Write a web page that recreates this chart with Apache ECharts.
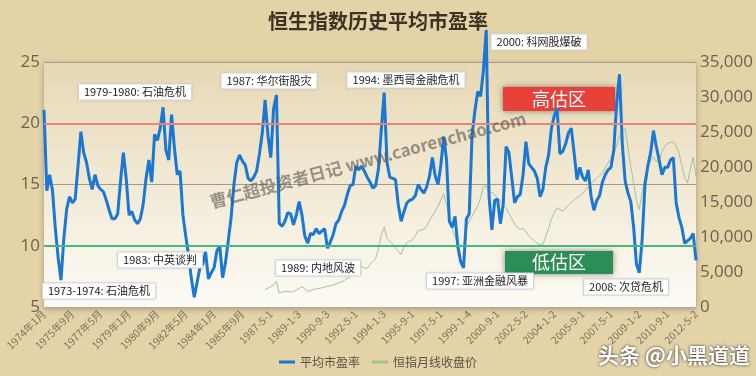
<!DOCTYPE html>
<html>
<head>
<meta charset="utf-8">
<script src="https://cdn.jsdelivr.net/npm/echarts@6/dist/echarts.min.js"></script>
<style>
html,body{margin:0;padding:0;background:#e5d3a8;}
#chart{width:756px;height:376px;}
</style>
</head>
<body>
<div id="chart"></div>
<script>
//横轴刻度文字（每20个月一个）
var tickLabels = ['1974年1月','1975年9月','1977年5月','1979年1月','1980年9月','1982年5月','1984年1月','1985年9月',
	'1987-5-1','1989-1-3','1990-9-3','1992-5-1','1994-1-3','1995-9-1','1997-5-1','1999-1-4',
	'2000-9-1','2002-5-2','2004-1-2','2005-9-1','2007-5-1','2009-1-2','2010-9-1','2012-5-2'];

//平均市盈率（1974年1月起，每两个月一个点）
var peValues = [21.1,14.5,15.8,14.5,11.4,9.0,7.2,10.6,13.0,14.0,
	13.5,13.8,16.5,19.3,17.6,16.8,15.5,14.6,15.8,14.9,
	14.6,14.4,13.7,12.9,12.2,12.2,12.6,15.3,17.6,15.5,
	12.5,12.8,12.1,11.8,12.2,13.4,15.5,17.0,15.2,19.1,
	18.6,19.6,21.3,17.8,17.0,20.7,18.0,15.8,16.1,12.5,
	10.8,9.2,7.3,5.8,7.0,8.2,8.5,9.5,7.3,7.8,
	8.2,9.6,10.0,7.4,8.6,10.4,12.3,15.0,16.8,17.4,
	16.9,16.6,15.5,15.3,15.6,16.1,17.5,19.2,21.9,19.0,
	17.2,21.2,22.3,11.8,11.6,12.0,12.7,12.6,11.7,12.5,
	13.6,12.5,10.8,10.2,11.0,10.9,11.4,11.0,11.2,11.4,
	9.8,10.3,10.9,11.8,12.1,12.8,13.3,14.2,14.9,15.0,
	16.5,16.2,16.5,16.1,15.6,15.2,14.7,14.9,16.3,19.5,
	22.5,16.8,15.6,15.5,15.4,13.3,12.0,12.8,13.5,13.7,
	13.8,14.1,15.0,14.6,14.3,14.8,15.7,17.2,15.7,15.0,
	16.6,18.9,17.0,12.0,11.5,12.4,9.9,8.7,8.2,12.2,
	12.6,19.0,21.0,22.6,22.2,24.3,27.6,14.0,11.3,13.7,
	13.8,11.8,13.4,18.1,17.6,15.6,13.5,14.0,14.2,15.8,
	18.5,16.7,16.4,16.1,15.5,14.0,14.6,16.4,17.4,19.6,
	20.6,21.2,17.5,17.7,18.3,19.2,19.6,17.6,15.4,16.4,
	15.6,15.3,16.2,14.0,12.9,13.7,14.1,15.2,15.8,16.2,
	16.4,17.8,21.6,24.0,18.3,15.3,14.3,13.6,11.5,8.5,
	7.8,10.5,15.0,16.5,17.6,19.4,18.1,17.0,15.8,16.4,
	16.4,17.0,17.2,13.5,12.3,11.5,10.2,10.4,10.6,11.0,
	8.8];

//恒指月线收盘价（1987年1月起，同样每两个月一个点）
var hsiStart = 78;
var hsiValues = [2450,2700,2900,3150,3700,2000,2100,2250,2200,2150,
	2200,2400,2650,2900,2600,2200,2350,2500,2600,2650,
	2750,2850,2950,3050,3150,3300,3450,3600,3800,4100,
	4400,4800,5300,5500,5750,5600,5500,6100,6500,6900,
	8300,10300,11400,9800,9400,9000,8400,8000,7500,8600,
	9200,9400,9600,10200,10900,11000,11100,11600,12400,13000,
	13700,14400,15300,16200,14600,12600,11200,10000,9000,8600,
	8700,11300,12300,13000,13700,14400,15600,17200,17300,16000,
	16400,16000,15600,15100,14600,14200,13400,12600,11900,11300,
	11100,11200,10800,10200,9800,9500,9100,8900,8900,10100,
	11200,12600,13500,14200,13900,13700,14100,14500,14900,15300,
	15600,15900,16200,16700,17200,17600,18000,18400,18800,19100,
	19900,20600,21300,22000,23000,24500,25200,25500,22800,20000,
	17800,15200,13900,16300,18500,20000,21000,21400,20800,20900,
	22200,22900,23400,23500,23600,23000,22000,20200,18500,17700,
	19700,21400,18700];

//事件标注
var notes = [
	{text:'1979-1980: 石油危机', x:135, y:92},
	{text:'1987: 华尔街股灾', x:269, y:81},
	{text:'1994: 墨西哥金融危机', x:406, y:80},
	{text:'2000: 科网股爆破', x:539, y:42},
	{text:'1973-1974: 石油危机', x:99, y:291},
	{text:'1983: 中英谈判', x:160, y:260},
	{text:'1989: 内地风波', x:318, y:268},
	{text:'1997: 亚洲金融风暴', x:480, y:281},
	{text:'2008: 次贷危机', x:626, y:287}
];

//类目：每两个月一个
var categories = [];
for(var i=0;i<peValues.length;i++){
	if(i % 10 == 0){
		categories.push(tickLabels[i/10]);
	}else{
		var m = i*2;
		categories.push((1974 + Math.floor(m/12)) + '-' + (m%12 + 1));
	}
}
var hsiData = [];
for(var i=0;i<peValues.length;i++){
	hsiData.push(i < hsiStart ? null : hsiValues[i - hsiStart]);
}

var cjk = '"Noto Sans CJK SC", sans-serif';
var graphics = [];
for(var i=0;i<notes.length;i++){
	graphics.push({
		type:'text', x:notes[i].x, y:notes[i].y, z:10,
		style:{
			text:notes[i].text, font:'11px ' + cjk, fill:'#222',
			align:'center', verticalAlign:'middle',
			backgroundColor:'#fff', padding:[2,5,2,5],
			borderColor:'#ddd', borderWidth:1,
			shadowBlur:2, shadowColor:'rgba(0,0,0,0.15)'
		}
	});
}
//高估区 / 低估区
graphics.push({
	type:'group', x:503, y:87, z:10,
	children:[
		{type:'rect', shape:{x:0,y:0,width:112,height:24},
			style:{fill:'#e8413a', shadowBlur:6, shadowColor:'rgba(0,0,0,0.45)'}},
		{type:'text', x:56, y:12, style:{text:'高估区', font:'18px ' + cjk, fill:'#fff', align:'center', verticalAlign:'middle'}}
	]
});
graphics.push({
	type:'group', x:505, y:251, z:10,
	children:[
		{type:'rect', shape:{x:0,y:0,width:108,height:23},
			style:{fill:'#2b8e55', shadowBlur:6, shadowColor:'rgba(0,0,0,0.45)'}},
		{type:'text', x:54, y:11.5, style:{text:'低估区', font:'18px ' + cjk, fill:'#fff', align:'center', verticalAlign:'middle'}}
	]
});
//水印
graphics.push({
	type:'text', x:368, y:160, rotation:15*Math.PI/180, z:9,
	style:{text:'曹仁超投资者日记 www.caorenchao.com', font:'bold 17px ' + cjk,
		fill:'rgba(90,85,80,0.6)', align:'center', verticalAlign:'middle'}
});
graphics.push({
	type:'text', x:674, y:355, z:10,
	style:{text:'头条 @小黑道道', font:'bold 21px ' + cjk, fill:'#fff',
		align:'center', verticalAlign:'middle',
		textShadowColor:'rgba(0,0,0,0.85)', textShadowBlur:3}
});

var myChart = echarts.init(document.getElementById('chart'));
var option = {
	backgroundColor:'#e5d3a8',
	animation:false,
	title:{
		text:'恒生指数历史平均市盈率', left:'center', top:6,
		textStyle:{fontFamily:cjk, fontSize:20, fontWeight:'bold', color:'#3d3226'}
	},
	legend:{
		bottom:3, left:'center', itemGap:12, itemWidth:16, itemHeight:3, icon:'rect',
		textStyle:{fontFamily:cjk, fontSize:12, color:'#5a5145'},
		data:['平均市盈率','恒指月线收盘价']
	},
	grid:{
		left:44, right:54, top:62, bottom:69, show:true, borderWidth:0,
		backgroundColor:new echarts.graphic.LinearGradient(0,0,0,1,[
			{offset:0, color:'#e7d8b4'},{offset:1, color:'#fdfbf6'}]),
		shadowBlur:6, shadowColor:'rgba(0,0,0,0.3)', shadowOffsetY:2
	},
	graphic:graphics,
	xAxis:{
		type:'category', data:categories, boundaryGap:false,
		axisLine:{lineStyle:{color:'#b3aa98'}},
		axisTick:{show:false},
		axisLabel:{interval:9, rotate:45, fontSize:10.5, color:'#7d7262', margin:5, fontFamily:cjk}
	},
	yAxis:[
		{
			type:'value', min:5, max:25, interval:5,
			axisLine:{show:false}, axisTick:{show:false},
			axisLabel:{fontSize:17, color:'#6e6150', margin:4, fontFamily:'"Open Sans", sans-serif'},
			splitLine:{lineStyle:{color:'#a39b8a', width:1}}
		},
		{
			type:'value', min:0, max:35000, interval:5000,
			axisLine:{show:false}, axisTick:{show:false},
			axisLabel:{fontSize:17, color:'#6e6150', margin:4, fontFamily:'"Open Sans", sans-serif'},
			splitLine:{show:false}
		}
	],
	series:[
		{
			name:'平均市盈率', type:'line', data:peValues, yAxisIndex:0, z:4, clip:false,
			symbol:'none', lineStyle:{color:'#1a78d4', width:3}, itemStyle:{color:'#1a78d4'},
			markLine:{
				silent:true, symbol:'none', label:{show:false},
				data:[
					{yAxis:20, lineStyle:{color:'#e8857b', width:2, type:'solid'}},
					{yAxis:10, lineStyle:{color:'#45b77a', width:2, type:'solid'}}
				]
			}
		},
		{
			name:'恒指月线收盘价', type:'line', data:hsiData, yAxisIndex:1, z:3,
			symbol:'none', lineStyle:{color:'#9cc59a', width:1}, itemStyle:{color:'#9cc59a'}
		}
	]
};
myChart.setOption(option);
</script>
</body>
</html>
